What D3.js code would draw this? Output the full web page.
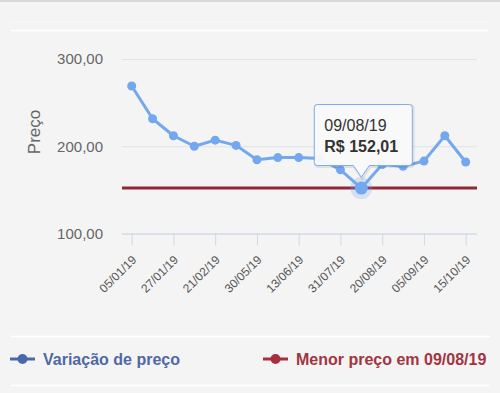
<!DOCTYPE html>
<html>
<head>
<meta charset="utf-8">
<script src="https://cdn.jsdelivr.net/npm/d3@7"></script>
<style>
  body { margin: 0; background: #f4f4f4; }
  svg { display: block; font-family: "Liberation Sans", Arial, sans-serif; }
</style>
</head>
<body>
<svg id="chart" width="500" height="393"></svg>
<script>
// dates (only every second one is shown as an axis label)
let dates = ["05/01/19", "16/01/19", "27/01/19", "08/02/19", "21/02/19", "15/03/19",
  "30/05/19", "06/06/19", "13/06/19", "05/07/19", "31/07/19", "09/08/19",
  "20/08/19", "28/08/19", "05/09/19", "30/09/19", "15/10/19"];
let prices = [269, 231.5, 212, 200, 207, 201, 184.5, 187, 187, 186, 173, 152.01,
  179, 177, 183, 212, 182];
let yTicks = [100, 200, 300];
let minIndex = 11;
let minPrice = 152.01;
let seriesName = "Variação de preço";
let minName = "Menor preço em 09/08/19";

let svg = d3.select("#chart");
let W = 500, H = 393;

let ptBR = d3.formatLocale({ decimal: ",", thousands: ".", grouping: [3], currency: ["R$ ", ""] });
let fmt = ptBR.format(".2f");

let plotLeft = 122, plotRight = 477, plotTop = 59, plotBottom = 233.5;

let x = d3.scalePoint().domain(dates).range([131.7, 465.7]);
let y = d3.scaleLinear().domain([100, 300]).range([plotBottom, plotTop]);

// background frame bits
svg.append("rect").attr("width", W).attr("height", H).attr("fill", "#f4f4f4");
svg.append("rect").attr("width", W).attr("height", 2).attr("fill", "#d8d8d8");
svg.append("line").attr("x1", 11).attr("x2", 488).attr("y1", 22).attr("y2", 22)
  .attr("stroke", "#f9f9f9").attr("stroke-width", 1);
svg.append("line").attr("x1", 11).attr("x2", 488).attr("y1", 30.5).attr("y2", 30.5)
  .attr("stroke", "#ffffff").attr("stroke-width", 1.5);
svg.append("line").attr("x1", 11).attr("x2", 490).attr("y1", 336.5).attr("y2", 336.5)
  .attr("stroke", "#ffffff").attr("stroke-width", 1.5);
svg.append("line").attr("x1", 11).attr("x2", 490).attr("y1", 385.5).attr("y2", 385.5)
  .attr("stroke", "#ffffff").attr("stroke-width", 1.5);

// y axis with grid
let yAxis = d3.axisLeft(y).tickValues(yTicks).tickSize(-(plotRight - plotLeft))
  .tickPadding(19).tickFormat(fmt);
let gy = svg.append("g").attr("transform", `translate(${plotLeft},0)`).call(yAxis);
gy.select(".domain").remove();
gy.selectAll(".tick line").attr("stroke", "#e2e2e2");
gy.selectAll(".tick text").attr("fill", "#666").style("font-size", "15px")
  .style("font-family", "Liberation Sans, Arial, sans-serif");

svg.append("text")
  .attr("transform", `translate(40,132) rotate(-90)`)
  .attr("text-anchor", "middle")
  .attr("fill", "#666")
  .style("font-size", "17px")
  .text("Preço");

// x axis
let xAxis = d3.axisBottom(x)
  .tickValues(dates.filter((d, i) => i % 2 === 0))
  .tickSize(12).tickSizeOuter(0);
let gx = svg.append("g").attr("transform", `translate(0,${plotBottom})`).call(xAxis);
gx.select(".domain").attr("d", `M${plotLeft},0.5H${plotRight}`).attr("stroke", "#ccd6eb");
gx.selectAll(".tick line").attr("stroke", "#ccd6eb");
gx.selectAll(".tick text")
  .attr("fill", "#555")
  .style("font-size", "12px")
  .style("font-family", "Liberation Sans, Arial, sans-serif")
  .attr("text-anchor", "end")
  .attr("y", 0).attr("dy", 0)
  .attr("transform", "translate(5,27) rotate(-45)");

// min price line
svg.append("line")
  .attr("x1", plotLeft).attr("x2", plotRight)
  .attr("y1", y(minPrice)).attr("y2", y(minPrice))
  .attr("stroke", "#8e2a35").attr("stroke-width", 3);

// price series
let line = d3.line().x((d, i) => x(dates[i])).y(d => y(d));
svg.append("path").datum(prices)
  .attr("d", line)
  .attr("fill", "none")
  .attr("stroke", "#74a8ee")
  .attr("stroke-width", 3)
  .attr("stroke-linejoin", "round");

svg.selectAll("circle.pt").data(prices).enter()
  .append("circle").attr("class", "pt")
  .attr("cx", (d, i) => x(dates[i]))
  .attr("cy", d => y(d))
  .attr("r", 4.5)
  .attr("fill", "#74a8ee");

// hovered point
let hx = x(dates[minIndex]), hy = y(prices[minIndex]);
svg.append("circle").attr("cx", hx).attr("cy", hy).attr("r", 11)
  .attr("fill", "#74a8ee").attr("opacity", 0.25);
svg.append("circle").attr("cx", hx).attr("cy", hy).attr("r", 6.5)
  .attr("fill", "#74a8ee");

// tooltip
let tw = 98, th = 61, tl = hx - 47, tt = 104.5, tb = tt + th, r = 3;
let tipY = hy - 11;
let tipPath = `M${tl + r},${tt} H${tl + tw - r} Q${tl + tw},${tt} ${tl + tw},${tt + r}
  V${tb - r} Q${tl + tw},${tb} ${tl + tw - r},${tb} H${hx + 8} L${hx},${tipY} L${hx - 8},${tb}
  H${tl + r} Q${tl},${tb} ${tl},${tb - r} V${tt + r} Q${tl},${tt} ${tl + r},${tt} Z`;
svg.append("path").attr("d", tipPath).attr("transform", "translate(1,1)")
  .attr("fill", "none").attr("stroke", "#000").attr("stroke-opacity", 0.08).attr("stroke-width", 3);
svg.append("path").attr("d", tipPath)
  .attr("fill", "#f9f9f9").attr("fill-opacity", 0.96)
  .attr("stroke", "#7cadee").attr("stroke-width", 1);
svg.append("text").attr("x", tl + 10).attr("y", 131)
  .attr("fill", "#333").style("font-size", "16px").text(dates[minIndex]);
svg.append("text").attr("x", tl + 10).attr("y", 151.5)
  .attr("fill", "#333").style("font-size", "16px").style("font-weight", "bold")
  .text("R$ " + fmt(prices[minIndex]));

// legend
let legend = [
  { name: seriesName, color: "#4b68ae", text: "#5068a6", x: 10 },
  { name: minName, color: "#a82f3d", text: "#a3343f", x: 263 }
];
let lg = svg.selectAll("g.lg").data(legend).enter().append("g").attr("class", "lg")
  .attr("transform", d => `translate(${d.x},359)`);
lg.append("line").attr("x1", 0).attr("x2", 25).attr("stroke", d => d.color).attr("stroke-width", 3);
lg.append("circle").attr("cx", 12.5).attr("r", 5).attr("fill", d => d.color);
lg.append("text").attr("x", 33).attr("y", 6)
  .attr("fill", d => d.text)
  .style("font-size", "16px").style("font-weight", "bold")
  .text(d => d.name);
</script>
</body>
</html>
